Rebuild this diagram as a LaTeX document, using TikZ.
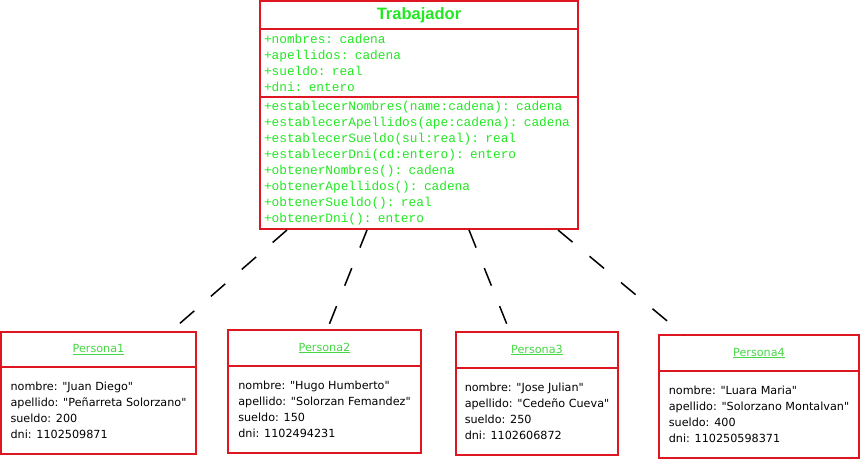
\documentclass[tikz,border=0pt]{standalone}
\usepackage{fontspec}
\setmainfont[Ligatures=TeXOff]{DejaVu Sans}
\newfontfamily\monofont{Liberation Mono}
\newfontfamily\titlefont{Liberation Sans}
\usetikzlibrary{positioning}

\definecolor{umlred}{RGB}{222,22,34}
\definecolor{umlgreen}{RGB}{34,232,34}
\definecolor{objgreen}{RGB}{70,215,70}

\begin{document}
\begin{tikzpicture}[x=1pt, y=-1pt]
    \useasboundingbox (0,0) rectangle (861,460);

    % clase Trabajador
    \begin{scope}[every node/.style={draw=umlred, line width=2pt, fill=white, inner sep=0pt, outer sep=0pt, minimum width=318pt, text=umlgreen},
                  members/.style={text width=310pt, inner xsep=4pt, align=left, font=\monofont\fontsize{12.8}{16}\selectfont}]
        \node[minimum height=28pt, font=\titlefont\bfseries\fontsize{16.5}{18}\selectfont] (trab) at (419,15) {Trabajador};
        \node[members, minimum height=68pt, below=0pt of trab] (trabattr) {+nombres: cadena\\+apellidos: cadena\\+sueldo: real\\+dni: entero};
        \node[members, minimum height=132pt, below=0pt of trabattr] (trabops) {+establecerNombres(name:cadena): cadena\\
            +establecerApellidos(ape:cadena): cadena\\
            +establecerSueldo(sul:real): real\\
            +establecerDni(cd:entero): entero\\
            +obtenerNombres(): cadena\\
            +obtenerApellidos(): cadena\\
            +obtenerSueldo(): real\\
            +obtenerDni(): entero};
    \end{scope}

    % objetos
    \begin{scope}[every node/.style={draw=umlred, line width=2pt, fill=white, inner sep=0pt, outer sep=0pt, font=\fontsize{11.2}{16}\selectfont},
                  objname/.style={text=objgreen},
                  objbody/.style={align=left, minimum height=87pt}]
        \node[objname, minimum width=195pt, minimum height=35pt] (p1) at (98.5,349.5) {\underline{Persona1}};
        \node[objbody, minimum width=195pt, below=0pt of p1] (p1body) {nombre: "Juan Diego"\\apellido: "Peñarreta Solorzano"\\sueldo: 200\\dni: 1102509871};

        \node[objname, minimum width=193pt, minimum height=36pt] (p2) at (324.5,348) {\underline{Persona2}};
        \node[objbody, minimum width=193pt, below=0pt of p2] (p2body) {nombre: "Hugo Humberto"\\apellido: "Solorzan Femandez"\\sueldo: 150\\dni: 1102494231};

        \node[objname, minimum width=162pt, minimum height=36pt] (p3) at (537,350) {\underline{Persona3}};
        \node[objbody, minimum width=162pt, below=0pt of p3] (p3body) {nombre: "Jose Julian"\\apellido: "Cedeño Cueva"\\sueldo: 250\\dni: 1102606872};

        \node[objname, minimum width=200pt, minimum height=36pt] (p4) at (759,353) {\underline{Persona4}};
        \node[objbody, minimum width=200pt, below=0pt of p4] (p4body) {nombre: "Luara Maria"\\apellido: "Solorzano Montalvan"\\sueldo: 400\\dni: 110250598371};
    \end{scope}

    % extremos de las dependencias
    \coordinate (t1) at (287,230);
    \coordinate (t2) at (367,230);
    \coordinate (t3) at (469,230);
    \coordinate (t4) at (558,230);
    \coordinate (e1) at (170,332);
    \coordinate (e2) at (327,330);
    \coordinate (e3) at (510,332);
    \coordinate (e4) at (684,335);

    \begin{scope}[every edge/.style={draw=black, line width=1.5pt, dash pattern=on 19pt off 22pt}]
        \path [-] (t1) edge (e1);
        \path [-] (t2) edge (e2);
        \path [-] (t3) edge (e3);
        \path [-] (t4) edge (e4);
    \end{scope}
\end{tikzpicture}
\end{document}
